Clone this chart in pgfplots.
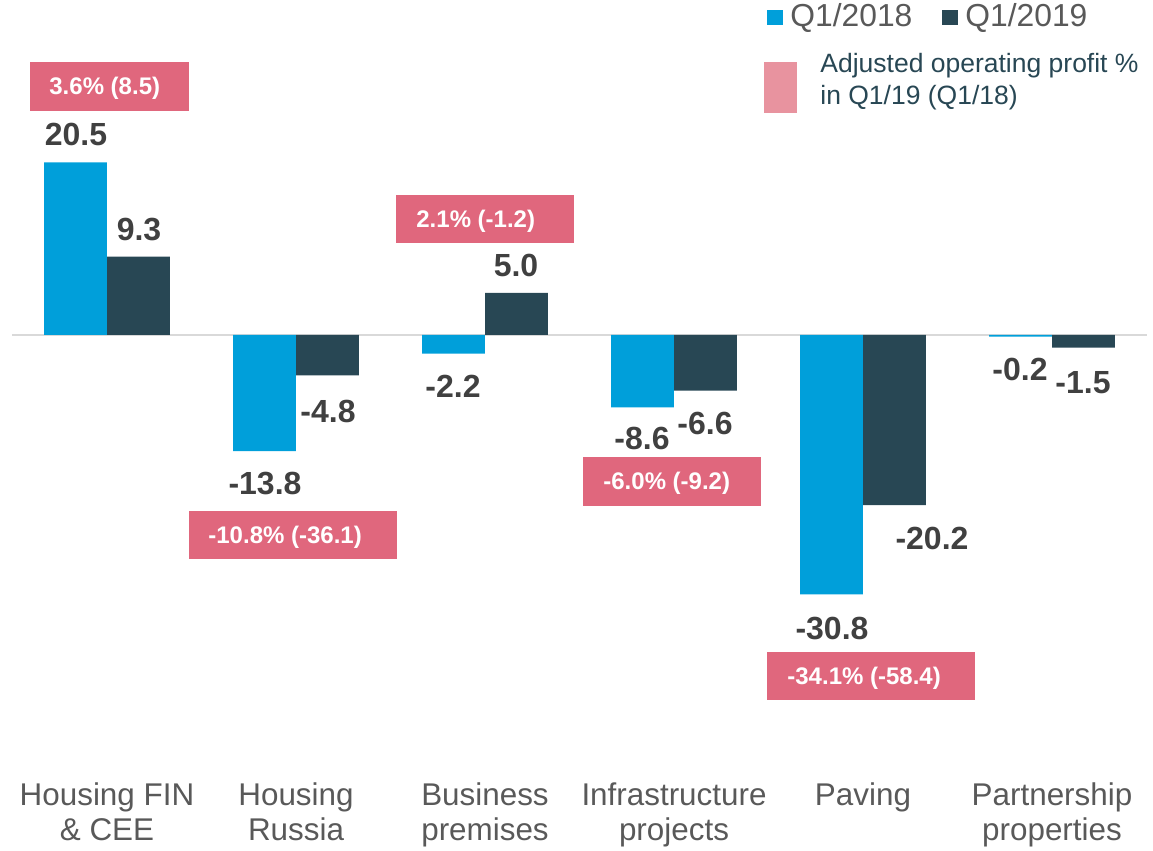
\documentclass[border=0pt]{standalone}
\usepackage{pgfplots}
\pgfplotsset{compat=1.18}
\usepackage{fontspec}
\setmainfont{Liberation Sans}
\definecolor{lblue}{HTML}{009FDA}
\definecolor{dteal}{HTML}{284754}
\definecolor{pinkbox}{HTML}{E0677D}
\definecolor{pinkleg}{HTML}{E8939F}
\definecolor{valtxt}{HTML}{404040}
\definecolor{cattxt}{HTML}{595959}
\begin{document}
\begin{tikzpicture}
\begin{axis}[
  scale only axis, width=576.5pt, height=425pt,
  xmin=-0.5661, xmax=5.5344, ymin=-61.164, ymax=39.786,
  axis line style={draw=none}, ytick=\empty,
  xtick={0,1,2,3,4,5}, major tick length=0pt,
  xticklabels={{Housing FIN\\\& CEE},{Housing\\Russia},{Business\\premises},{Infrastructure\\projects},{Paving},{Partnership\\properties}},
  xticklabel style={align=center, anchor=north, inner sep=0pt, yshift=34pt,
    font=\fontsize{15.7}{17.5}\selectfont, text=cattxt},
  clip=false,
]
\draw[color=black!15, line width=1pt] (axis cs:-0.5,0) -- (axis cs:5.5,0);
\addplot[ybar, bar width=0.333, bar shift=-0.1667, fill=lblue, draw=none]
  coordinates {(0,20.5) (1,-13.8) (2,-2.2) (3,-8.6) (4,-30.8) (5,-0.2)};
\addplot[ybar, bar width=0.333, bar shift=0.1667, fill=dteal, draw=none]
  coordinates {(0,9.3) (1,-4.8) (2,5.0) (3,-6.6) (4,-20.2) (5,-1.5)};
\end{axis}
\begin{scope}[shift={(current axis.north west)}, x=0.5pt, y=-0.5pt]
  % value labels
  \begin{scope}[every node/.style={font=\bfseries\fontsize{16}{19}\selectfont, text=valtxt, inner sep=0pt}]
    \node at (76,134) {20.5};
    \node at (139,230) {9.3};
    \node at (265,484) {-13.8};
    \node at (328,411) {-4.8};
    \node at (453,386) {-2.2};
    \node at (516,265) {5.0};
    \node at (642,438) {-8.6};
    \node at (705,423) {-6.6};
    \node at (832,629) {-30.8};
    \node at (932,538) {-20.2};
    \node at (1020,369) {-0.2};
    \node at (1083,383) {-1.5};
  \end{scope}
  % pink boxes
  \begin{scope}[every node/.style={font=\bfseries\fontsize{12}{14}\selectfont, text=white, inner sep=0pt, anchor=base west}]
    \fill[pinkbox] (30,62) rectangle (189,111);
    \node at (49,95) {3.6\% (8.5)};
    \fill[pinkbox] (189,511) rectangle (397,559);
    \node at (208,544) {-10.8\% (-36.1)};
    \fill[pinkbox] (396,195) rectangle (574,243);
    \node at (416,228) {2.1\% (-1.2)};
    \fill[pinkbox] (583,457) rectangle (761,506);
    \node at (603,490) {-6.0\% (-9.2)};
    \fill[pinkbox] (767,652) rectangle (975,700);
    \node at (787,685) {-34.1\% (-58.4)};
  \end{scope}
  % legend
  \fill[lblue] (767,10) rectangle (783,25);
  \node[anchor=west, inner sep=0pt, font=\fontsize{15.9}{18}\selectfont, text=cattxt] at (790,17.5) {Q1/2018};
  \fill[dteal] (942,10) rectangle (958,25);
  \node[anchor=west, inner sep=0pt, font=\fontsize{15.9}{18}\selectfont, text=cattxt] at (965,17.5) {Q1/2019};
  \fill[pinkleg] (764,62) rectangle (797,113);
  \node[anchor=north west, inner sep=0pt, align=left, font=\fontsize{13.25}{16}\selectfont, text=dteal] at (820,53) {Adjusted operating profit \%\\in Q1/19 (Q1/18)};
\end{scope}
\pgfresetboundingbox
\path (current axis.south west) rectangle (current axis.north east);
\end{tikzpicture}
\end{document}
